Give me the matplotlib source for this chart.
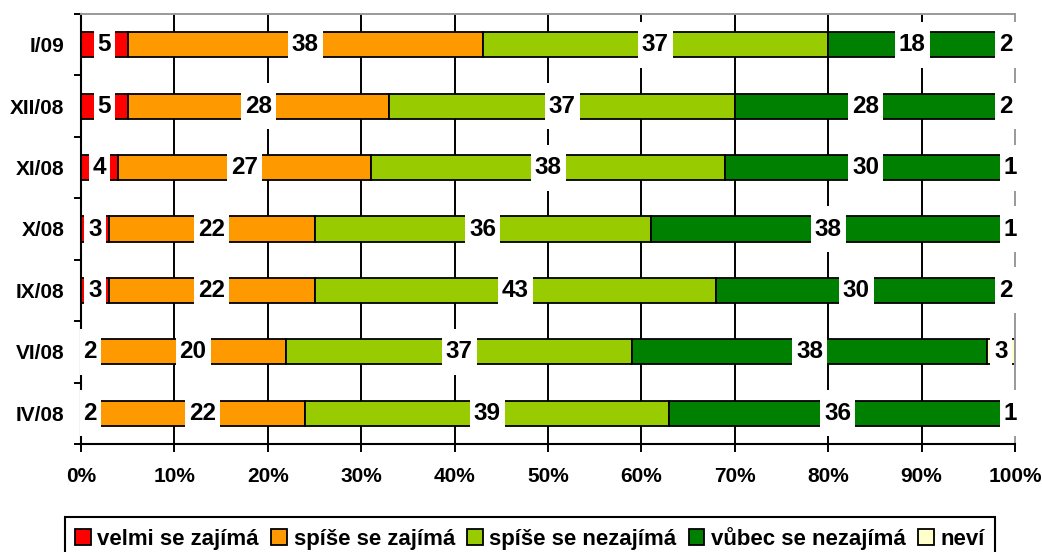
import matplotlib
matplotlib.use('Agg')  # non-interactive backend
import matplotlib.pyplot as plt
from matplotlib.patches import Patch
import numpy as np

plt.rcParams['font.family'] = ['Liberation Sans', 'DejaVu Sans']
plt.rcParams['font.weight'] = 'bold'

# ---------------------------------------------------------------------------
# Data (rows listed top to bottom, values in %)
# ---------------------------------------------------------------------------
categories = ['I/09', 'XII/08', 'XI/08', 'X/08', 'IX/08', 'VI/08', 'IV/08']
series_names = ['velmi se zajímá', 'spíše se zajímá', 'spíše se nezajímá',
                'vůbec se nezajímá', 'neví']
velmi = [5, 5, 4, 3, 3, 2, 2]
spise_zajima = [38, 28, 27, 22, 22, 20, 22]
spise_nezajima = [37, 37, 38, 36, 43, 37, 39]
vubec = [18, 28, 30, 38, 30, 38, 36]
nevi = [2, 2, 1, 1, 2, 3, 1]
x_ticks = [0, 10, 20, 30, 40, 50, 60, 70, 80, 90, 100]
x_tick_labels = [f'{t}%' for t in x_ticks]

_COLORS = ['#FF0000', '#FF9900', '#99CC00', '#008000', '#FFFFCC']

# ---------------------------------------------------------------------------
# Figure
# ---------------------------------------------------------------------------
W, H = 1042, 552
fig = plt.figure(figsize=(W / 100, H / 100), dpi=100)
ax = fig.add_axes([81 / W, 1 - 444 / H, (1015 - 81) / W, (444 - 14) / H])

n = len(categories)
y = np.arange(n)
ax.set_xlim(0, 100)
ax.set_ylim(n - 0.5, -0.5)

px_per_unit = ax.bbox.width / 100.0

# inner vertical gridlines, behind bars
ax.vlines(x_ticks[1:-1], -0.5, n - 0.5, colors='black', linewidth=1.4, zorder=0.5)

series = [velmi, spise_zajima, spise_nezajima, vubec, nevi]
left = np.zeros(n)
for vals, color in zip(series, _COLORS):
    vals = np.array(vals, dtype=float)
    ax.barh(y, vals, left=left, height=0.41, color=color,
            edgecolor='black', linewidth=1.3, zorder=2)
    # value labels on white boxes
    for yi, lf, v in zip(y, left, vals):
        cx = lf + v / 2
        txt = f'{int(v)}'
        box_w = (8 + 13.5 * len(txt)) / px_per_unit
        box = ax.barh(yi, box_w, left=cx - box_w / 2, height=0.75,
                      color='white', linewidth=0, zorder=5)
        for p in box.patches:
            p.set_clip_on(False)
        ax.text(cx, yi, txt, ha='center', va='center', fontsize=17.5,
                fontweight='bold', zorder=6, clip_on=False)
    left = left + vals

# axes styling
ax.set_xticks(x_ticks)
ax.set_xticklabels(x_tick_labels, fontsize=15, fontweight='bold')
ax.tick_params(axis='x', direction='out', length=6, width=1.4, pad=10.5)

ax.set_yticks(y)
ax.set_yticklabels(categories, fontsize=15, fontweight='bold')
ax.set_yticks(np.arange(n + 1) - 0.5, minor=True)
ax.tick_params(axis='y', which='major', length=0, pad=12)
ax.tick_params(axis='y', which='minor', direction='out', length=5, width=1.4)

for side in ['left', 'bottom']:
    ax.spines[side].set_color('black')
    ax.spines[side].set_linewidth(1.5)
for side in ['top', 'right']:
    ax.spines[side].set_color('#999999')
    ax.spines[side].set_linewidth(1.4)

# legend
handles = [Patch(facecolor=c, edgecolor='black', linewidth=1.3) for c in _COLORS]
leg = fig.legend(handles, series_names, loc='upper center',
                 bbox_to_anchor=(530 / W, 1 - 517 / H), ncol=5,
                 frameon=True, fancybox=False, edgecolor='black', framealpha=1,
                 prop={'size': 16, 'weight': 'bold'},
                 handlelength=0.7, handleheight=0.7, handletextpad=0.3,
                 columnspacing=0.55, borderpad=0.45, borderaxespad=0)
leg.get_frame().set_linewidth(1.5)

fig.savefig('out.png', dpi=100)
